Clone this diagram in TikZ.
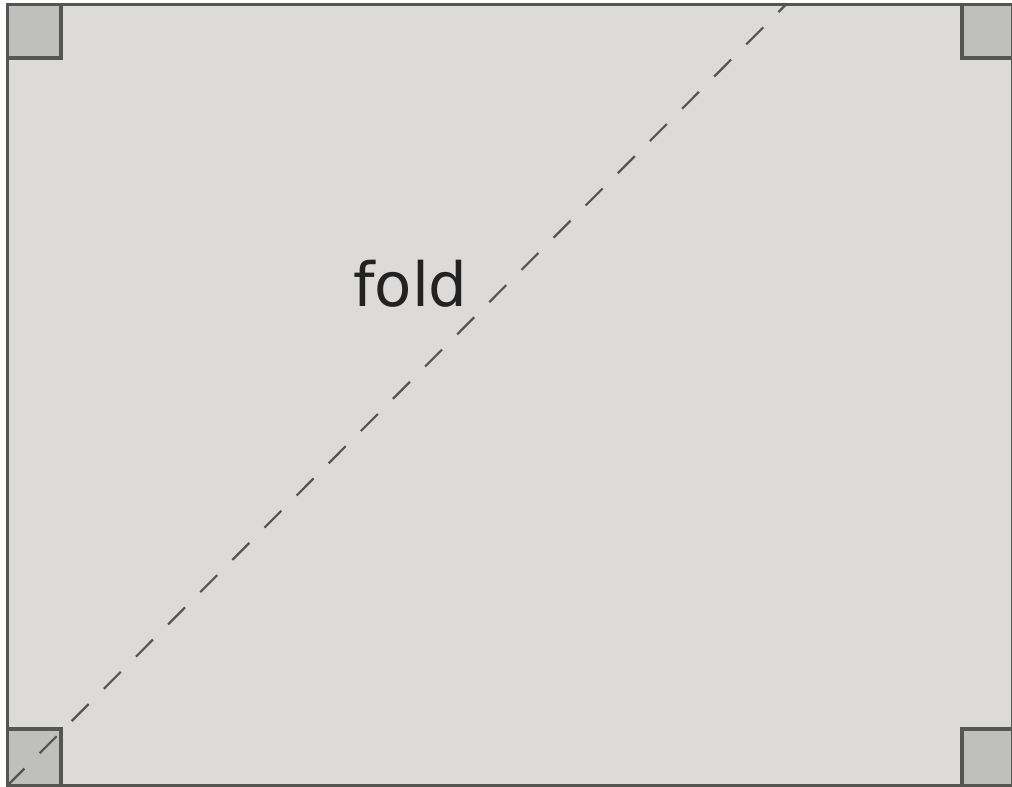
\documentclass[tikz,border=0pt]{standalone}
\usepackage{fontspec}
\newfontfamily\dejavu{DejaVu Sans}
\usepackage{tikz}
\usetikzlibrary{calc}
\definecolor{sheet}{RGB}{220,219,217}
\definecolor{tab}{RGB}{191,191,189}
\definecolor{edge}{RGB}{85,86,83}
\definecolor{ink}{RGB}{34,34,34}

\begin{document}
\begin{tikzpicture}[x=1pt, y=-1pt]
            \useasboundingbox (0,0) rectangle (1012,787);
            \def\s{53.5}
            \coordinate (p1) at (7.5, 4.5);
            \coordinate (p2) at (1012.5, 4.5);
            \coordinate (p3) at (7.5, 785.5);
            \coordinate (p4) at (1012.5, 785.5);
            \coordinate (foldend) at (786, 4.5);
            \fill[sheet] (p1) -- (p2) -- (p4) -- (p3) -- cycle;
            \filldraw[fill=tab, draw=edge, line width=3.5pt] (p1) rectangle ++(\s, \s);
            \filldraw[fill=tab, draw=edge, line width=3.5pt] (962, 4.5) rectangle ++(\s, \s);
            \filldraw[fill=tab, draw=edge, line width=3.5pt] (7.5, 729) rectangle (61, 785.5);
            \filldraw[fill=tab, draw=edge, line width=3.5pt] (962, 729) rectangle (1012.5, 785.5);
            \draw[edge, line width=2.2pt, dash pattern=on 24pt off 21.5pt] (p3) -- (foldend);
            \draw[edge, line width=3pt] (p1) -- (p2) -- (p4) -- (p3) -- cycle;
            \node[anchor=base west, inner sep=0pt, text=ink, font=\dejavu\fontsize{61}{70}\selectfont] (foldlabel) at (353, 306) {fold};
          \end{tikzpicture}
\end{document}
